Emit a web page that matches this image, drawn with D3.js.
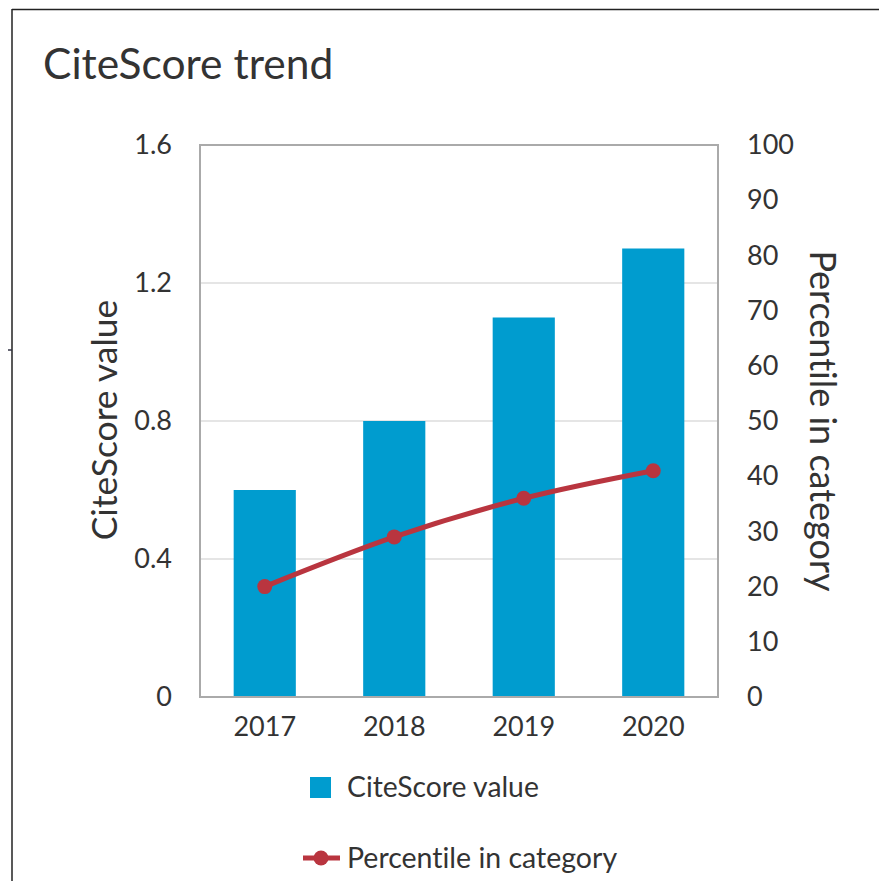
<!DOCTYPE html>
<html>
<head>
<meta charset="utf-8">
<script src="https://cdn.jsdelivr.net/npm/d3@7"></script>
<style>
    body { margin: 0; background: #fff; }
    svg { display: block; font-family: Lato, "Open Sans", sans-serif; font-variant-ligatures: none; }
    .axis path, .axis line { display: none; }
    .axis text { fill: #333; font-size: 27px; font-family: Lato, "Open Sans", sans-serif; }
</style>
</head>
<body>
<svg id="chart"></svg>
<script>
// Chart data
const years = ['2017', '2018', '2019', '2020'];
const citeScores = [0.6, 0.8, 1.1, 1.3];
const percentiles = [20, 29, 36, 41];
const leftTicks = [0, 0.4, 0.8, 1.2, 1.6];
const rightTicks = [0, 10, 20, 30, 40, 50, 60, 70, 80, 90, 100];

const config = {
    width: 879,
    height: 881,
    margin: {top: 145, right: 161, bottom: 184, left: 200},
    barColor: '#009ccf',
    lineColor: '#b9353f'
};

const width = config.width - config.margin.left - config.margin.right;
const height = config.height - config.margin.top - config.margin.bottom;

const svg = d3.select('#chart')
    .attr('width', config.width)
    .attr('height', config.height);

// outer frame (top and left edges only)
svg.append('line').attr('x1', 12).attr('x2', config.width).attr('y1', 9.5).attr('y2', 9.5)
    .attr('stroke', '#222').attr('stroke-width', 1.5);
svg.append('line').attr('x1', 12).attr('x2', 12).attr('y1', 9).attr('y2', config.height)
    .attr('stroke', '#222').attr('stroke-width', 1.5);
// little notch on the left edge
svg.append('line').attr('x1', 8).attr('x2', 12).attr('y1', 350).attr('y2', 350)
    .attr('stroke', '#334').attr('stroke-width', 1.5);

// Title
svg.append('text')
    .attr('x', 43)
    .attr('y', 79)
    .style('font-size', '42.5px')
    .attr('fill', '#333')
    .text('CiteScore trend');

const chart = svg.append('g')
    .attr('transform', `translate(${config.margin.left},${config.margin.top})`);

const xScale = d3.scaleBand()
    .domain(years)
    .range([0, width])
    .paddingInner(0.52)
    .paddingOuter(0.26);

const yLeft = d3.scaleLinear().domain([0, 1.6]).range([height, 0]);
const yRight = d3.scaleLinear().domain([0, 100]).range([height, 0]);

// gridlines
chart.selectAll('.grid')
    .data(leftTicks.slice(1, -1))
    .join('line')
    .attr('class', 'grid')
    .attr('x1', 0).attr('x2', width)
    .attr('y1', d => yLeft(d)).attr('y2', d => yLeft(d))
    .attr('stroke', '#ddd')
    .attr('stroke-width', 1.5);

// bars
chart.selectAll('.bar')
    .data(citeScores)
    .join('rect')
    .attr('class', 'bar')
    .attr('x', (d, i) => xScale(years[i]))
    .attr('width', xScale.bandwidth())
    .attr('y', d => yLeft(d))
    .attr('height', d => height - yLeft(d))
    .attr('fill', config.barColor);

// plot frame
chart.append('rect')
    .attr('width', width)
    .attr('height', height)
    .attr('fill', 'none')
    .attr('stroke', '#aaa')
    .attr('stroke-width', 2);

// percentile line
const cx = (d, i) => xScale(years[i]) + xScale.bandwidth() / 2;
const line = d3.line()
    .x(cx)
    .y(d => yRight(d))
    .curve(d3.curveMonotoneX);

chart.append('path')
    .datum(percentiles)
    .attr('d', line)
    .attr('fill', 'none')
    .attr('stroke', config.lineColor)
    .attr('stroke-width', 5);

chart.selectAll('.dot')
    .data(percentiles)
    .join('circle')
    .attr('class', 'dot')
    .attr('cx', cx)
    .attr('cy', d => yRight(d))
    .attr('r', 7.5)
    .attr('fill', config.lineColor);

// axes
const xAxisG = chart.append('g')
    .attr('class', 'axis x-axis')
    .attr('transform', `translate(0,${height})`)
    .call(d3.axisBottom(xScale).tickSize(0).tickPadding(20));
xAxisG.selectAll('text').attr('dy', '0.71em').style('font-size', '27px');

chart.append('g')
    .attr('class', 'axis y-axis')
    .call(d3.axisLeft(yLeft).tickValues(leftTicks).tickSize(0).tickPadding(28)
        .tickFormat(d => d === 0 ? '0' : d3.format('.1f')(d)));

chart.append('g')
    .attr('class', 'axis y-axis-right')
    .attr('transform', `translate(${width},0)`)
    .call(d3.axisRight(yRight).tickValues(rightTicks).tickSize(0).tickPadding(29));

chart.selectAll('.axis').attr('font-family', null).attr('font-size', null);

// axis titles
svg.append('text')
    .attr('transform', `translate(117,${config.margin.top + height / 2 - 1}) rotate(-90)`)
    .attr('text-anchor', 'middle')
    .style('font-size', '35.5px')
    .attr('fill', '#333')
    .text('CiteScore value');

svg.append('text')
    .attr('transform', `translate(810,${421}) rotate(90)`)
    .attr('text-anchor', 'middle')
    .style('font-size', '36px')
    .attr('fill', '#333')
    .text('Percentile in category');

// legend
const legend = svg.append('g');
legend.append('rect')
    .attr('x', 310).attr('y', 777)
    .attr('width', 21).attr('height', 21)
    .attr('fill', config.barColor);
legend.append('text')
    .attr('x', 347).attr('y', 797)
    .style('font-size', '28.3px')
    .attr('fill', '#333')
    .text('CiteScore value');

legend.append('line')
    .attr('x1', 303).attr('x2', 340)
    .attr('y1', 858).attr('y2', 858)
    .attr('stroke', config.lineColor)
    .attr('stroke-width', 5);
legend.append('circle')
    .attr('cx', 321).attr('cy', 858).attr('r', 7.5)
    .attr('fill', config.lineColor);
legend.append('text')
    .attr('x', 347).attr('y', 868)
    .style('font-size', '28.5px')
    .attr('fill', '#333')
    .text('Percentile in category');
</script>
</body>
</html>
